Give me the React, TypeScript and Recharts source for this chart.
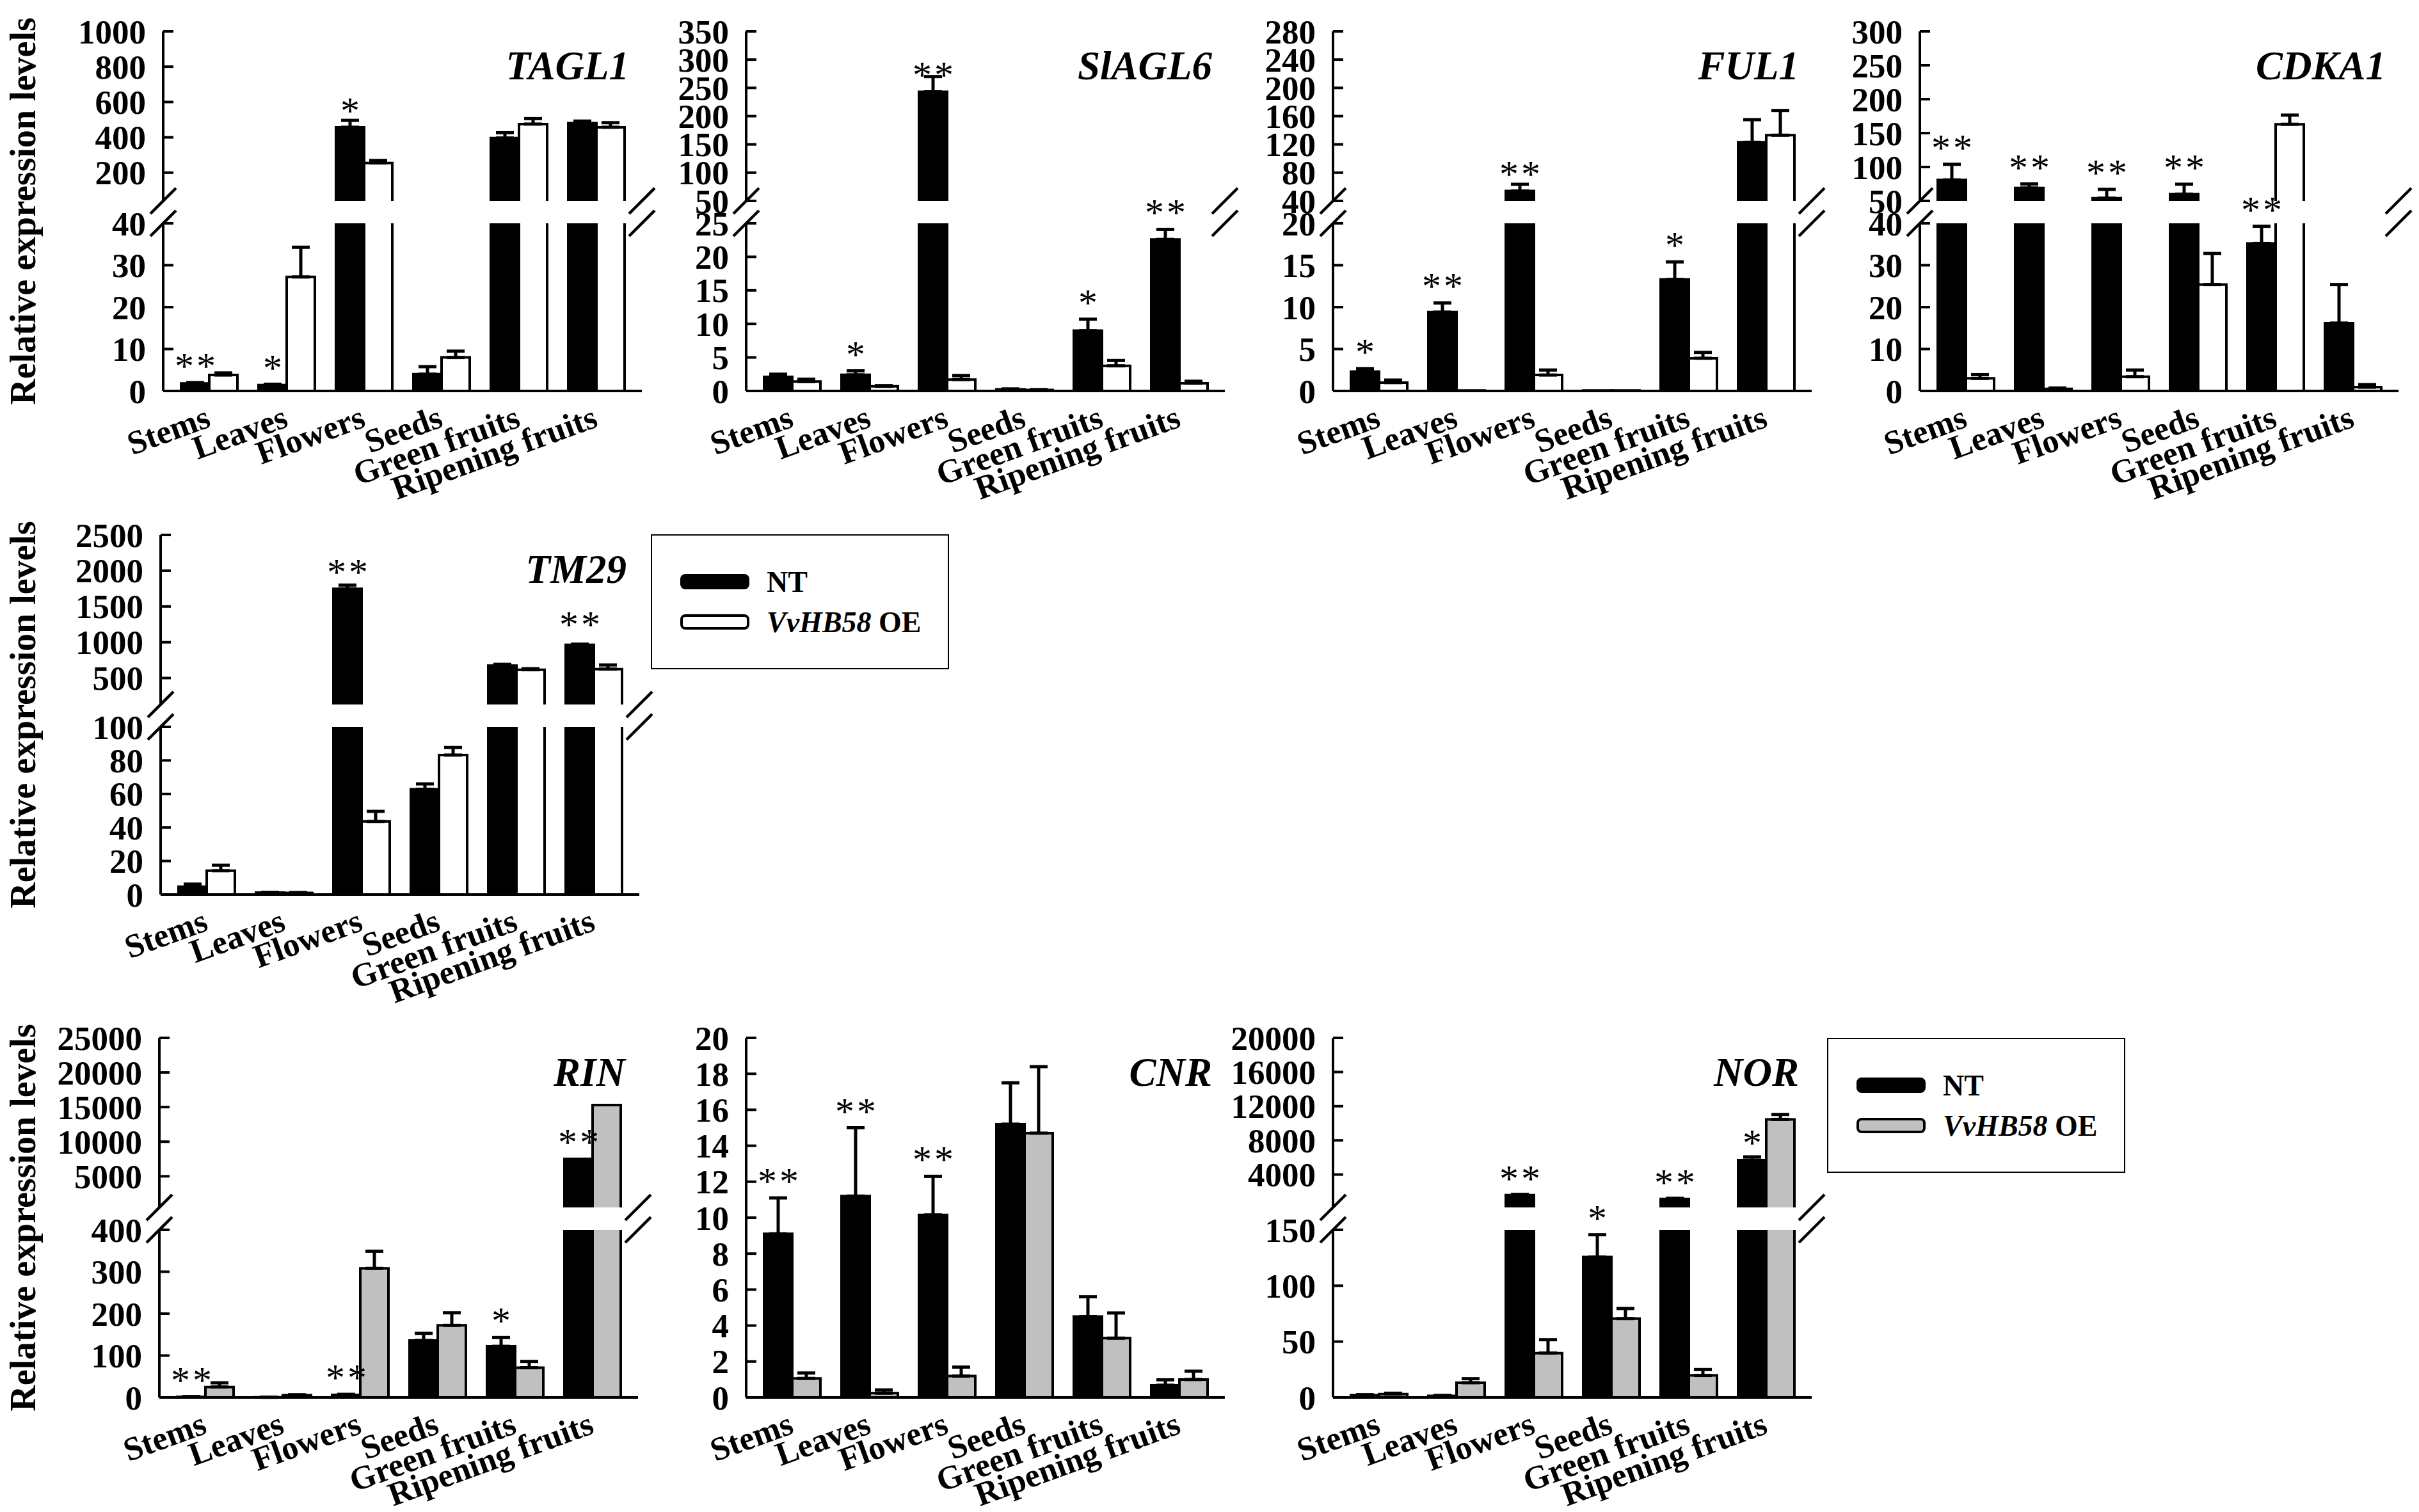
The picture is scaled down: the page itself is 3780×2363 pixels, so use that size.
import React from "react";
import { BarChart, Bar, XAxis, YAxis, ErrorBar, LabelList } from "recharts";

const FONT = "'Liberation Serif', 'Times New Roman', Times, serif";

const categories = ["Stems", "Leaves", "Flowers", "Seeds", "Green fruits", "Ripening fruits"];
const seriesNames = ["NT", "VvHB58 OE"];

// TAGL1
const tagl1Nt = [1.8, 1.4, 457, 4.0, 396, 480];
const tagl1NtErr = [0.2, 0.2, 39, 1.8, 30, 12];
const tagl1Oe = [3.8, 27.2, 255, 8.0, 475, 457];
const tagl1OeErr = [0.5, 7.1, 14, 1.5, 31, 26];
const tagl1Sig = ["**", "*", "*", "", "", ""];
const tagl1Lower = [0, 40];
const tagl1LowerTicks = [0, 10, 20, 30, 40];
const tagl1Upper = [40, 1000];
const tagl1UpperTicks = [200, 400, 600, 800, 1000];

// SlAGL6
const slagl6Nt = [2.1, 2.4, 243, 0.25, 9.0, 22.6];
const slagl6NtErr = [0.4, 0.6, 27, 0.05, 1.7, 1.5];
const slagl6Oe = [1.4, 0.7, 1.7, 0.15, 3.75, 1.15];
const slagl6OeErr = [0.35, 0.1, 0.6, 0.05, 0.8, 0.3];
const slagl6Sig = ["", "*", "**", "", "*", "**"];
const slagl6Lower = [0, 25];
const slagl6LowerTicks = [0, 5, 10, 15, 20, 25];
const slagl6Upper = [50, 350];
const slagl6UpperTicks = [50, 100, 150, 200, 250, 300, 350];

// FUL1
const ful1Nt = [2.3, 9.4, 54, 0.05, 13.3, 123];
const ful1NtErr = [0.35, 1.1, 9.5, 0, 2.1, 32];
const ful1Oe = [1.0, 0.05, 1.9, 0.05, 3.9, 133];
const ful1OeErr = [0.3, 0, 0.6, 0, 0.7, 35];
const ful1Sig = ["*", "**", "**", "", "*", ""];
const ful1Lower = [0, 20];
const ful1LowerTicks = [0, 5, 10, 15, 20];
const ful1Upper = [40, 280];
const ful1UpperTicks = [40, 80, 120, 160, 200, 240, 280];

// CDKA1
const cdka1Nt = [81, 69, 54, 60, 35.2, 16.2];
const cdka1NtErr = [23, 6, 13, 14.6, 4.1, 9.2];
const cdka1Oe = [3.0, 0.5, 3.4, 25.4, 163, 0.9];
const cdka1OeErr = [0.9, 0.2, 1.6, 7.4, 13.5, 0.6];
const cdka1Sig = ["**", "**", "**", "**", "**", ""];
const cdka1Lower = [0, 40];
const cdka1LowerTicks = [0, 10, 20, 30, 40];
const cdka1Upper = [50, 300];
const cdka1UpperTicks = [50, 100, 150, 200, 250, 300];

// TM29
const tm29Nt = [4.7, 1.1, 1746, 62.8, 674, 964];
const tm29NtErr = [1.5, 0.2, 53, 3.2, 18, 9];
const tm29Oe = [14.2, 1.0, 43.6, 83.2, 616, 625];
const tm29OeErr = [3.3, 0.2, 6, 4.5, 14, 58];
const tm29Sig = ["", "", "**", "", "", "**"];
const tm29Lower = [0, 100];
const tm29LowerTicks = [0, 20, 40, 60, 80, 100];
const tm29Upper = [130, 2500];
const tm29UpperTicks = [500, 1000, 1500, 2000, 2500];

// RIN
const rinNt = [1.5, 0.5, 6, 136, 122, 7500];
const rinNtErr = [0.5, 0.2, 1.5, 17, 21, 0];
const rinOe = [25, 5.5, 308, 172, 71, 15300];
const rinOeErr = [10, 1, 41, 30, 15, 0];
const rinSig = ["**", "", "**", "", "*", "**"];
const rinLower = [0, 400];
const rinLowerTicks = [0, 100, 200, 300, 400];
const rinUpper = [500, 25000];
const rinUpperTicks = [5000, 10000, 15000, 20000, 25000];

// CNR
const cnrNt = [9.1, 11.2, 10.15, 15.2, 4.5, 0.68];
const cnrNtErr = [2.0, 3.8, 2.15, 2.3, 1.1, 0.3];
const cnrOe = [1.06, 0.24, 1.19, 14.7, 3.3, 1.0];
const cnrOeErr = [0.3, 0.18, 0.5, 3.7, 1.4, 0.46];
const cnrSig = ["**", "**", "**", "", "", ""];
const cnrDomain = [0, 20];
const cnrTicks = [0, 2, 4, 6, 8, 10, 12, 14, 16, 18, 20];

// NOR
const norNt = [2.0, 1.5, 1600, 125.6, 1150, 5690];
const norNtErr = [0.5, 0.3, 80, 20, 70, 380];
const norOe = [3.0, 13.2, 39.7, 70.6, 19.7, 10458];
const norOeErr = [0.8, 3.6, 12, 9, 5.3, 577];
const norSig = ["", "", "**", "*", "**", "*"];
const norLower = [0, 150];
const norLowerTicks = [0, 50, 100, 150];
const norUpper = [150, 20000];
const norUpperTicks = [4000, 8000, 12000, 16000, 20000];

const WHITE = "#ffffff";
const GRAY = "#c0c0c0";

const genes = [
  { name: "TAGL1", nt: tagl1Nt, ntErr: tagl1NtErr, oe: tagl1Oe, oeErr: tagl1OeErr, sig: tagl1Sig, fill: WHITE, lower: tagl1Lower, lowerTicks: tagl1LowerTicks, upper: tagl1Upper, upperTicks: tagl1UpperTicks },
  { name: "SlAGL6", nt: slagl6Nt, ntErr: slagl6NtErr, oe: slagl6Oe, oeErr: slagl6OeErr, sig: slagl6Sig, fill: WHITE, lower: slagl6Lower, lowerTicks: slagl6LowerTicks, upper: slagl6Upper, upperTicks: slagl6UpperTicks },
  { name: "FUL1", nt: ful1Nt, ntErr: ful1NtErr, oe: ful1Oe, oeErr: ful1OeErr, sig: ful1Sig, fill: WHITE, lower: ful1Lower, lowerTicks: ful1LowerTicks, upper: ful1Upper, upperTicks: ful1UpperTicks },
  { name: "CDKA1", nt: cdka1Nt, ntErr: cdka1NtErr, oe: cdka1Oe, oeErr: cdka1OeErr, sig: cdka1Sig, fill: WHITE, lower: cdka1Lower, lowerTicks: cdka1LowerTicks, upper: cdka1Upper, upperTicks: cdka1UpperTicks },
  { name: "TM29", nt: tm29Nt, ntErr: tm29NtErr, oe: tm29Oe, oeErr: tm29OeErr, sig: tm29Sig, fill: WHITE, lower: tm29Lower, lowerTicks: tm29LowerTicks, upper: tm29Upper, upperTicks: tm29UpperTicks },
  { name: "RIN", nt: rinNt, ntErr: rinNtErr, oe: rinOe, oeErr: rinOeErr, sig: rinSig, fill: GRAY, lower: rinLower, lowerTicks: rinLowerTicks, upper: rinUpper, upperTicks: rinUpperTicks },
  { name: "CNR", nt: cnrNt, ntErr: cnrNtErr, oe: cnrOe, oeErr: cnrOeErr, sig: cnrSig, fill: GRAY, lower: cnrDomain, lowerTicks: cnrTicks, upper: null, upperTicks: null },
  { name: "NOR", nt: norNt, ntErr: norNtErr, oe: norOe, oeErr: norOeErr, sig: norSig, fill: GRAY, lower: norLower, lowerTicks: norLowerTicks, upper: norUpper, upperTicks: norUpperTicks },
];

// panel plot-area positions (left, top) on the page
const layout = [
  [255, 49], [1166, 49], [2083, 49], [3000, 49],
  [251, 836],
  [249, 1622], [1166, 1622], [2083, 1622],
];

const W = 748;   // plot width
const PH = 562;  // full plot height
const HU = 265;  // upper segment height
const LT = 300;  // lower segment top offset
const HL = PH - LT;
const L = 240, R = 20, T = 90, XH = 300;
const AX = { stroke: "#000", strokeWidth: 4 };

function YTick(props: any) {
  const { x, y, payload } = props;
  return (
    <g>
      <line x1={x} y1={y} x2={x + 16} y2={y} stroke="#000" strokeWidth={4} />
      <text x={x - 27} y={y} dy="0.35em" textAnchor="end" fontFamily={FONT} fontWeight="bold" fontSize={53} fill="#000">
        {payload.value}
      </text>
    </g>
  );
}

function XTick(props: any) {
  const { x, y, payload } = props;
  const tx = x + 5;
  const ty = y + 55;
  return (
    <text x={tx} y={ty} transform={`rotate(-20 ${tx} ${ty})`} textAnchor="end" fontFamily={FONT} fontWeight="bold" fontSize={52} fill="#000">
      {payload.value}
    </text>
  );
}

function makeShape(fill: string) {
  return (props: any) => {
    const { x, y, width, height } = props;
    if (![x, y, width, height].every((v) => Number.isFinite(v))) return <g />;
    const top = Math.min(y, y + height);
    const h = Math.abs(height);
    return (
      <g>
        <rect x={x} y={top} width={width} height={h} fill={fill} />
        <path d={`M${x},${top + h}V${top}H${x + width}V${top + h}`} fill="none" stroke="#000" strokeWidth={4} />
      </g>
    );
  };
}

function sigLabel(errs: number[], k: number) {
  return (props: any) => {
    const { value, index } = props;
    if (!value) return null;
    const vb = props.viewBox && Number.isFinite(props.viewBox.y) ? props.viewBox : props;
    const top = Math.min(vb.y, vb.y + vb.height);
    const capY = top - (errs[index] || 0) * k;
    return (
      <text x={vb.x + vb.width / 2 + 2} y={capY - 6} textAnchor="middle" letterSpacing={4} fontFamily={FONT} fontSize={60} fill="#000">
        {value}
      </text>
    );
  };
}

function makeRows(g: any, seg: string, dom: number[]) {
  return categories.map((cat, i) => {
    const inSeg = (v: number) => (seg === "upper" ? v >= dom[0] : seg === "lower" ? v <= dom[1] : true);
    const nt = g.nt[i];
    const oe = g.oe[i];
    return {
      cat,
      nt: seg === "upper" && nt < dom[0] ? null : nt,
      oe: seg === "upper" && oe < dom[0] ? null : oe,
      ntErr: inSeg(nt) && g.ntErr[i] > 0 ? [0, g.ntErr[i]] : null,
      oeErr: inSeg(oe) && g.oeErr[i] > 0 ? [0, g.oeErr[i]] : null,
      ntSig: inSeg(nt) ? g.sig[i] : "",
    };
  });
}

function Segment({ g, seg, left, top, h, dom, ticks }: any) {
  const rows = makeRows(g, seg, dom);
  const k = h / (dom[1] - dom[0]);
  const hasTop = seg !== "lower";
  const hasBottom = seg !== "upper";
  const below = hasBottom ? XH : 60;
  const xId = hasBottom ? "b" : "t";
  return (
    <div style={{ position: "absolute", left: left - L, top: top - T }}>
      <BarChart
        width={L + W + R}
        height={T + h + below}
        data={rows}
        barGap={0}
        barSize={44}
        margin={{ top: T, right: R, bottom: hasBottom ? 0 : below, left: 0 }}
      >
        {hasTop && (
          <XAxis xAxisId="t" orientation="top" dataKey="cat" height={0} tick={false} tickLine={false} axisLine={AX} padding={{ left: 11, right: 11 }} />
        )}
        {hasBottom && (
          <XAxis xAxisId="b" dataKey="cat" height={XH} interval={0} tickLine={false} tickSize={0} tickMargin={0} axisLine={AX} tick={XTick} padding={{ left: 11, right: 11 }} />
        )}
        <YAxis yAxisId="l" type="number" domain={dom} ticks={ticks} allowDataOverflow interval={0} width={L} tickLine={false} tickSize={0} tickMargin={0} axisLine={AX} tick={YTick} />
        <YAxis yAxisId="r" orientation="right" type="number" domain={[0, 1]} width={0} tick={false} tickLine={false} axisLine={AX} />
        <Bar dataKey="nt" name={seriesNames[0]} xAxisId={xId} yAxisId="l" isAnimationActive={false} shape={makeShape("#000")}>
          <ErrorBar dataKey="ntErr" width={14} strokeWidth={5} stroke="#000" direction="y" />
          <LabelList dataKey="ntSig" content={sigLabel(g.ntErr, k)} />
        </Bar>
        <Bar dataKey="oe" name={seriesNames[1]} xAxisId={xId} yAxisId="l" isAnimationActive={false} shape={makeShape(g.fill)}>
          <ErrorBar dataKey="oeErr" width={14} strokeWidth={5} stroke="#000" direction="y" />
        </Bar>
      </BarChart>
    </div>
  );
}

function Overlay({ g, x, y }: any) {
  const pad = 60;
  const slashes: React.ReactNode[] = [];
  if (g.upper) {
    [pad, pad + W].forEach((cx) =>
      [pad + HU, pad + LT].forEach((cy) =>
        slashes.push(<line key={`${cx}-${cy}`} x1={cx - 20} y1={cy + 20} x2={cx + 20} y2={cy - 20} stroke="#000" strokeWidth={4.5} />)
      )
    );
  }
  return (
    <svg style={{ position: "absolute", left: x - pad, top: y - pad, overflow: "visible", pointerEvents: "none" }} width={W + 2 * pad} height={PH + 2 * pad}>
      <text x={pad + W - 20} y={pad + 75} textAnchor="end" fontFamily={FONT} fontWeight="bold" fontStyle="italic" fontSize={63} fill="#000">
        {g.name}
      </text>
      {slashes}
    </svg>
  );
}

function Panel({ g, x, y }: any) {
  return (
    <>
      {g.upper ? (
        <>
          <Segment g={g} seg="upper" left={x} top={y} h={HU} dom={g.upper} ticks={g.upperTicks} />
          <Segment g={g} seg="lower" left={x} top={y + LT} h={HL} dom={g.lower} ticks={g.lowerTicks} />
        </>
      ) : (
        <Segment g={g} seg="full" left={x} top={y} h={PH} dom={g.lower} ticks={g.lowerTicks} />
      )}
      <Overlay g={g} x={x} y={y} />
    </>
  );
}

function LegendBox({ x, y, fill }: any) {
  const [code, suffix] = seriesNames[1].split(" ");
  return (
    <svg style={{ position: "absolute", left: x, top: y }} width={466} height={211}>
      <rect x={1} y={1} width={464} height={209} fill="#fff" stroke="#000" strokeWidth={2} />
      <rect x={48} y={64} width={104} height={20} rx={6} fill="#000" stroke="#000" strokeWidth={4} />
      <text x={181} y={74} dy="0.35em" fontFamily={FONT} fontWeight="bold" fontSize={46} fill="#000">
        {seriesNames[0]}
      </text>
      <rect x={48} y={127} width={104} height={20} rx={6} fill={fill} stroke="#000" strokeWidth={4} />
      <text x={181} y={137} dy="0.35em" fontFamily={FONT} fontWeight="bold" fontSize={46} fill="#000">
        <tspan fontStyle="italic">{code}</tspan> {suffix}
      </text>
    </svg>
  );
}

const rowCenters = [49 + PH / 2, 836 + PH / 2, 1622 + PH / 2];

export default function App() {
  return (
    <div style={{ position: "absolute", left: 0, top: 0, width: 3780, height: 2363, background: "#fff", overflow: "hidden" }}>
      <svg style={{ position: "absolute", left: 0, top: 0 }} width={120} height={2363}>
        {rowCenters.map((cy) => (
          <text key={cy} transform="rotate(-90)" x={-cy} y={55} textAnchor="middle" fontFamily={FONT} fontWeight="bold" fontSize={56} fill="#000">
            Relative expression levels
          </text>
        ))}
      </svg>
      {genes.map((g, i) => (
        <Panel key={g.name} g={g} x={layout[i][0]} y={layout[i][1]} />
      ))}
      <LegendBox x={1017} y={835} fill={WHITE} />
      <LegendBox x={2855} y={1622} fill={GRAY} />
    </div>
  );
}
